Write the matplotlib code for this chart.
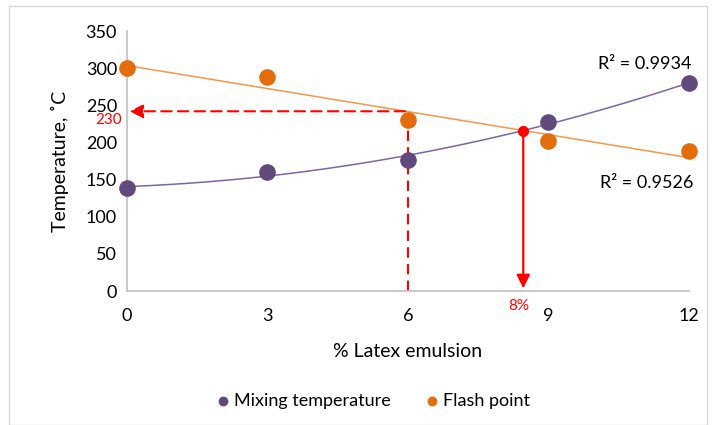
import numpy as np
from matplotlib import pyplot as plt
from matplotlib.patches import Rectangle

plt.rcParams['font.family'] = ['Lato', 'DejaVu Sans']

latex = [0, 3, 6, 9, 12]
mixing_temp = [139, 160, 177, 227, 280]
flash_point = [300, 288, 230, 202, 188]

r2_mixing = "R² = 0.9934"
r2_flash = "R² = 0.9526"

c_mix = "#604A7B"
c_flash = "#E46C0A"

fig = plt.figure(figsize=(7.16, 4.25), dpi=100)
ax = fig.add_axes([0.177, 0.315, 0.785, 0.612])

# trendlines: poly 2 for mixing, linear for flash point
xs = np.linspace(0, 12, 200)
p_mix = np.polyfit(latex, mixing_temp, 2)
p_fl = np.polyfit(latex, flash_point, 1)
ax.plot(xs, np.polyval(p_mix, xs), color="#8064A2", lw=1.1, zorder=2)
ax.plot(xs, np.polyval(p_fl, xs), color="#F79646", lw=1.1, zorder=2)

ax.scatter(latex, mixing_temp, s=120, color=c_mix, zorder=3, clip_on=False, label="Mixing temperature")
ax.scatter(latex, flash_point, s=120, color=c_flash, zorder=3, clip_on=False, label="Flash point")

# intersection of the two trendlines
roots = np.roots(p_mix - np.concatenate(([0], p_fl)))
xi = [r.real for r in roots if 0 < r.real < 12][0]
yi = np.polyval(p_fl, xi)
ax.plot(xi, yi, 'o', color="red", ms=7, zorder=4)
ax.annotate("", xy=(xi, 0), xytext=(xi, yi),
            arrowprops=dict(arrowstyle="-|>", color="red", lw=1.6, mutation_scale=20))
ax.text(xi - 0.1, -10, "8%", color="red", fontsize=11, ha="center", va="top")

# dashed guide at x = 6
yh = 242
ax.plot([6, 6], [0, yh], color="red", ls=(0, (5, 3)), lw=1.5, zorder=1)
ax.annotate("", xy=(0, yh), xytext=(6, yh),
            arrowprops=dict(arrowstyle="-|>", color="red", lw=1.5, ls=(0, (5, 3)), mutation_scale=20))
ax.text(-0.1, 230, "230", color="red", fontsize=11, ha="right", va="center")

ax.text(12.05, 306, r2_mixing, fontsize=13, ha="right", va="center")
ax.text(12.1, 145, r2_flash, fontsize=13, ha="right", va="center")

ax.set_xlim(0, 12)
ax.set_ylim(0, 350)
ax.set_xticks([0, 3, 6, 9, 12])
ax.set_yticks(range(0, 351, 50))
ax.tick_params(length=0, labelsize=13, pad=12)
ax.tick_params(axis='y', pad=7)
for s in ["top", "right"]:
    ax.spines[s].set_visible(False)
for s in ["left", "bottom"]:
    ax.spines[s].set_color("#BFBFBF")
    ax.spines[s].set_linewidth(1.2)

ax.set_xlabel("% Latex emulsion", fontsize=14, labelpad=14)
ax.set_ylabel("Temperature, ˚C", fontsize=14, labelpad=12)

ax.legend(loc="upper center", bbox_to_anchor=(0.44, -0.33), ncol=2, frameon=False,
          fontsize=13, handlelength=0.6, handletextpad=0.3, columnspacing=2.0, markerscale=0.55)

fig.add_artist(Rectangle((0.012, 0.0), 0.975, 0.985, transform=fig.transFigure,
                         fill=False, edgecolor="#D9D9D9", lw=1))

plt.savefig("out.png")
